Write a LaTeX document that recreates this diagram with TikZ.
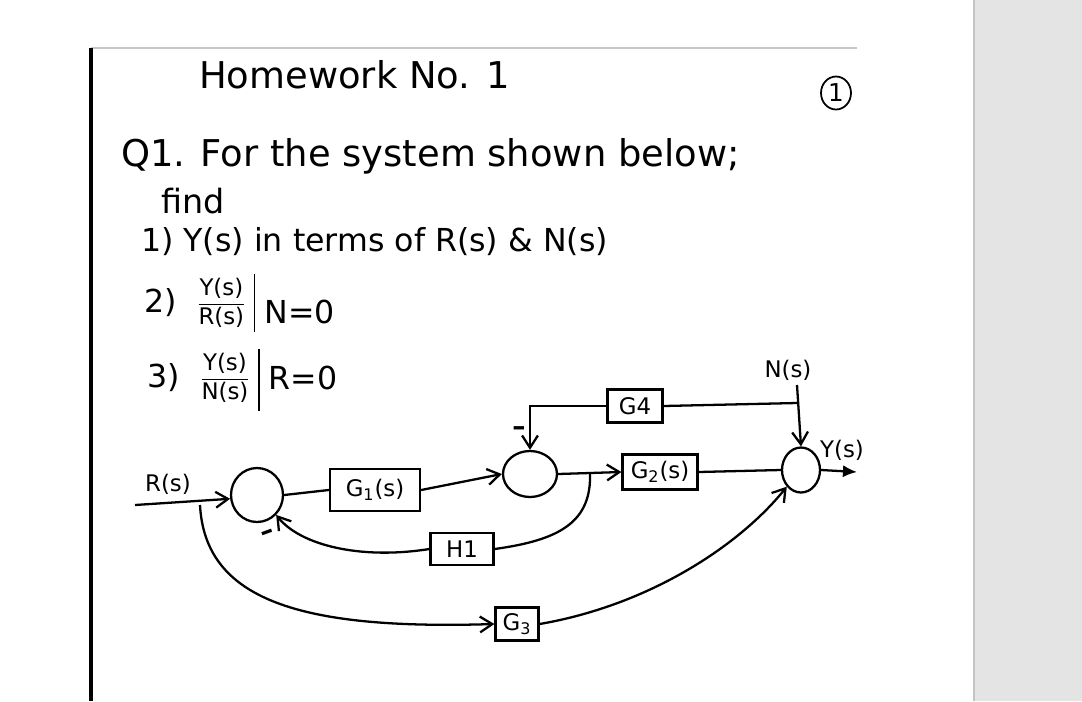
\documentclass[tikz,border=0pt]{standalone}
\usepackage{amsmath}
\usepackage{fontspec}
\setmainfont{DejaVu Sans}
\usetikzlibrary{positioning,arrows.meta,shapes.geometric}
\definecolor{panel}{RGB}{228,228,228}
\definecolor{panelline}{RGB}{196,196,196}

\begin{document}
\begin{tikzpicture}[
  x=0.02cm,y=-0.02cm,
  >={Straight Barb[length=7pt,width=9pt]},
  line width=1.3pt,
  txt/.style={anchor=base west,inner sep=0pt,font=\fontsize{18}{20}\selectfont},
  frc/.style={inner sep=0pt,font=\fontsize{13}{15}\selectfont},
  blk/.style={draw,minimum height=0.68cm,inner sep=2pt,font=\fontsize{13}{15}\selectfont},
  sum/.style={draw,ellipse,inner sep=0pt},
  sig/.style={->},
  lbl/.style={inner sep=1pt,font=\fontsize{13}{15}\selectfont}
]
\useasboundingbox (0,0) rectangle (1082,701);
\fill[white] (0,0) rectangle (1082,701);
\fill[panel] (974,0) rectangle (1082,701);
\draw[panelline,line width=0.8pt] (974,0) -- (974,701);
\draw[gray!45,line width=0.6pt] (91,48) -- (857,48);
\draw[line width=1.8pt] (91,48) -- (91,701);

\node[txt,font=\fontsize{21}{24}\selectfont] (title) at (198,88) {Homework No. 1};
\node[draw,ellipse,minimum width=0.6cm,minimum height=0.66cm,inner sep=0pt,line width=1pt,font=\fontsize{14}{16}\selectfont] (pagenum) at (836,93) {1};
\node[txt,font=\fontsize{21}{24}\selectfont] (q1) at (120,166) {Q1. For the system shown below;};
\node[txt,font=\fontsize{19}{22}\selectfont] (find) at (160,213) {find};
\node[txt,font=\fontsize{18}{20}\selectfont] (item1) at (140,251) {1) Y(s) in terms of R(s) \& N(s)};

\node[txt,anchor=west] (num2) at (143,303) {2)};
\node[frc,right=10pt of num2] (frac2) {$\dfrac{\mbox{Y(s)}}{\mbox{R(s)}}$};
\node[txt,anchor=west,right=9pt of frac2,yshift=-5pt] (cond2) {N=0};
\draw[line width=1pt] ([xshift=4pt,yshift=2pt]frac2.north east) -- ([xshift=4pt,yshift=-2pt]frac2.south east);

\node[txt,anchor=west] (num3) at (146,378) {3)};
\node[frc,right=10pt of num3] (frac3) {$\dfrac{\mbox{Y(s)}}{\mbox{N(s)}}$};
\node[txt,anchor=west,right=9pt of frac3] (cond3) {R=0};
\draw[line width=1pt] ([xshift=4pt,yshift=2pt]frac3.north east) -- ([xshift=4pt,yshift=-4pt]frac3.south east);

\node[sum,minimum width=1.04cm,minimum height=1.08cm] (sum1) at (257,495) {};
\node[blk,minimum width=1.8cm,minimum height=0.84cm] (g1) at (375,490) {G\textsubscript{1}(s)};
\node[sum,minimum width=1.08cm,minimum height=0.92cm] (sum2) at (530,474) {};
\node[blk,minimum width=1.5cm,minimum height=0.7cm] (g2) at (660,472) {G\textsubscript{2}(s)};
\node[sum,minimum width=0.76cm,minimum height=0.9cm] (sum3) at (801,470) {};
\node[blk,minimum width=1.26cm,minimum height=0.64cm] (h1) at (462,549) {H1};
\node[blk,minimum width=1.1cm,minimum height=0.66cm] (g4) at (635,406) {G4};
\node[blk,minimum width=0.86cm,minimum height=0.66cm] (g3) at (517,624) {G\textsubscript{3}};

\node[lbl] (rlabel) at (168,484) {R(s)};
\node[lbl] (nlabel) at (788,370) {N(s)};
\node[lbl] (ylabel) at (842,450) {Y(s)};
\node[lbl,font=\bfseries\fontsize{15}{15}\selectfont] (minus2) at (519,431) {--};
\node[lbl,rotate=20,font=\bfseries\fontsize{15}{15}\selectfont] (minus1) at (268,535) {--};

\coordinate (rin) at (135,505);
\coordinate (rsplit) at (200,505);
\coordinate (hsplit) at (590,472);
\coordinate (ntop) at (797,385);
\coordinate (nsplit) at (797,403);
\coordinate (yout) at (857,472);

\draw[sig] (rin) -- (sum1.188);
\draw (sum1.east) -- (g1.west);
\draw[sig] (g1.east) -- (sum2.west);
\draw[sig] (sum2.east) -- (g2.west);
\draw (g2.east) -- (sum3.west);
\draw[-{Latex[length=8pt,width=7pt]}] (sum3.east) -- (yout);
\draw[sig] (ntop) -- (sum3.north);
\draw (nsplit) -- (g4.east);
\draw[sig] (g4.west) -| (sum2.north);
\draw (hsplit) .. controls (592,522) and (560,540) .. (h1.east);
\draw[sig] (h1.west) .. controls (360,560) and (300,545) .. (sum1.south east);
\draw[sig] (rsplit) .. controls (205,600) and (300,630) .. (g3.west);
\draw[sig] (g3.east) .. controls (650,605) and (740,545) .. (sum3.south west);
\end{tikzpicture}
\end{document}
